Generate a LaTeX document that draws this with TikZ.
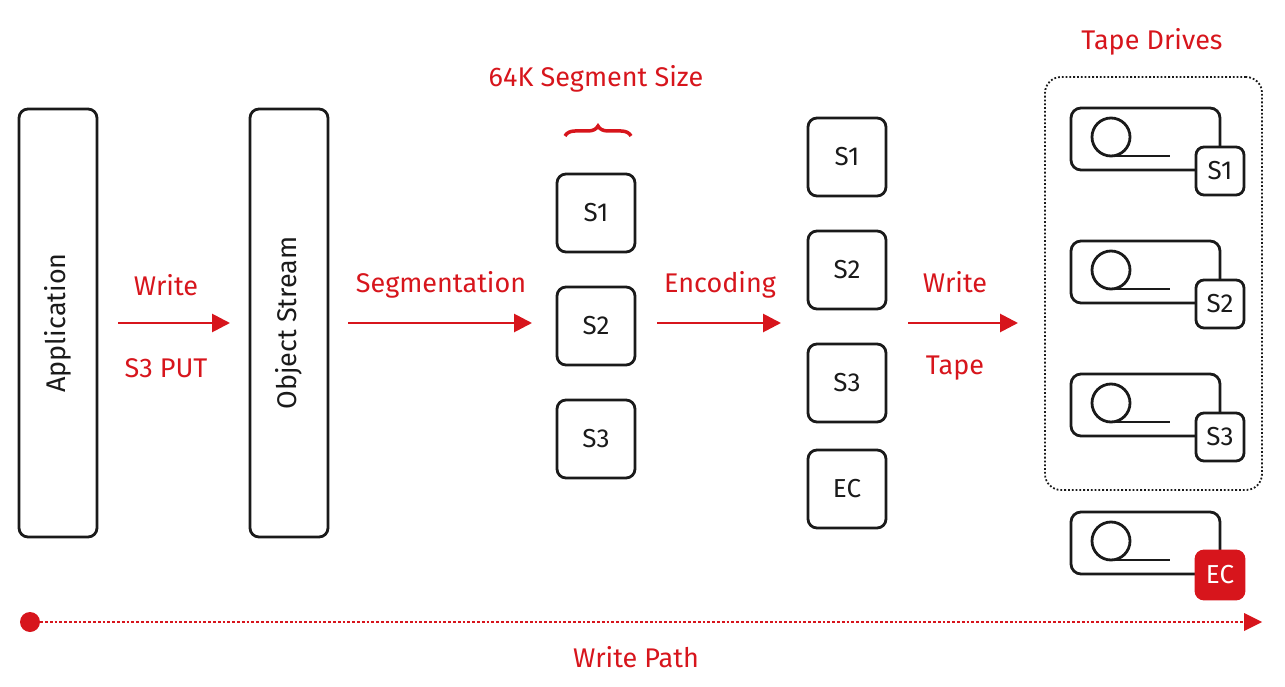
\documentclass[tikz,border=0pt]{standalone}
\usepackage{fontspec}
\setmainfont{Fira Sans}
\usetikzlibrary{arrows.meta,decorations.pathreplacing}
\definecolor{myred}{HTML}{D7151C}
\definecolor{ink}{HTML}{1A1A1A}
\begin{document}
\begin{tikzpicture}[x=1pt,y=-1pt,
  box/.style={draw=ink,line width=2.8pt,rounded corners=9pt},
  seg/.style={box,minimum width=78pt,minimum height=78pt,font=\fontsize{26}{30}\selectfont,text=ink},
  lbl/.style={text=myred,font=\fontsize{27}{31}\selectfont},
  arr/.style={draw=myred,line width=2.8pt,-{Triangle[length=18pt,width=18pt]}},
  small/.style={draw=ink,fill=white,line width=2.8pt,rounded corners=8pt,minimum width=48pt,minimum height=48pt,font=\fontsize{26}{30}\selectfont,text=ink,inner sep=0pt}]
\useasboundingbox (0,0) rectangle (1285,687);
\node[box,minimum width=78pt,minimum height=428pt] (app) at (58,323) {};
\node[rotate=90,font=\fontsize{27}{31}\selectfont,text=ink] at (app.center) {Application};
\node[box,minimum width=78pt,minimum height=428pt] (os) at (289,323) {};
\node[rotate=90,font=\fontsize{27}{31}\selectfont,text=ink] at (os.center) {Object Stream};
\coordinate (a1s) at (118,323); \coordinate (a1e) at (230,323);
\draw[arr] (a1s) -- (a1e);
\node[lbl] (w1) at (166,285) {Write};
\node[lbl] (p1) at (166,368) {S3 PUT};
\coordinate (a2s) at (348,323); \coordinate (a2e) at (532,323);
\draw[arr] (a2s) -- (a2e);
\node[lbl] (sg) at (441,285) {Segmentation};
\node[seg] (s1) at (596,213) {S1};
\node[seg] (s2) at (596,326) {S2};
\node[seg] (s3) at (596,439) {S3};
\coordinate (b1) at (565,136); \coordinate (b2) at (631,136);
\draw[myred,line width=3.5pt,decorate,decoration={brace,amplitude=10pt,aspect=0.5}] (b1) -- (b2);
\node[lbl] (bs) at (596,79) {64K Segment Size};
\coordinate (a3s) at (657,323); \coordinate (a3e) at (781,323);
\draw[arr] (a3s) -- (a3e);
\node[lbl] (en) at (720,285) {Encoding};
\node[seg] (t1) at (847,157) {S1};
\node[seg] (t2) at (847,270) {S2};
\node[seg] (t3) at (847,383) {S3};
\node[seg] (t4) at (847,489) {EC};
\coordinate (a4s) at (908,323); \coordinate (a4e) at (1018,323);
\draw[arr] (a4s) -- (a4e);
\node[lbl] (w2) at (955,282) {Write};
\node[lbl] (tp) at (955,368) {Tape};
\node[draw=ink,line width=1.8pt,dotted,rounded corners=16pt,minimum width=217pt,minimum height=413pt] (tdbox) at (1153.5,283.5) {};
\node[lbl] (td) at (1152,42) {Tape Drives};
\foreach \y in {108,241,374,512}{
  \draw[draw=ink,line width=2.8pt,rounded corners=10pt] (1071,\y) rectangle (1220,\y+62);
  \draw[ink,line width=2.8pt] (1111,\y+29) circle (19pt);
  \draw[ink,line width=2.8pt] (1111,\y+48) -- (1170,\y+48);
}
\node[small] (d1) at (1220,171) {S1};
\node[small] (d2) at (1220,304) {S2};
\node[small] (d3) at (1220,437) {S3};
\node[small,draw=myred,fill=myred,text=white] (d4) at (1220,575) {EC};
\node[circle,fill=myred,minimum size=20pt,inner sep=0pt] (dot) at (30,622) {};
\coordinate (pe) at (1262,622);
\draw[myred,line width=2.8pt,dotted,-{Triangle[length=18pt,width=18pt,line width=0pt]}] (dot) -- (pe);
\node[lbl] (wp) at (636,657) {Write Path};
\end{tikzpicture}
\end{document}
